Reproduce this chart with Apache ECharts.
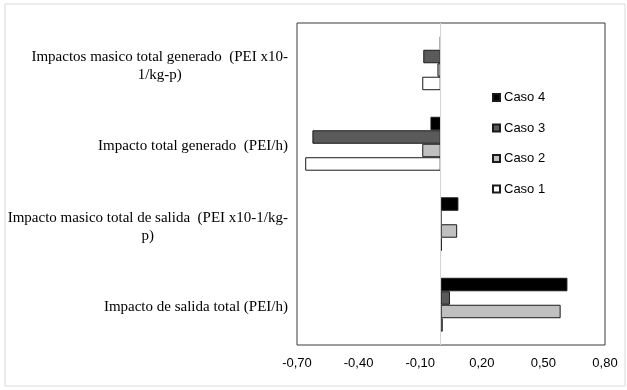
<!DOCTYPE html>
<html>
<head>
<meta charset="utf-8">
<script src="https://cdn.jsdelivr.net/npm/echarts@6/dist/echarts.min.js"></script>
<style>
  html, body { margin: 0; padding: 0; background: #fff; }
  #chart { width: 627px; height: 390px; }
</style>
</head>
<body>
<div id="chart"></div>
<script>
// categories, top to bottom
var categories = [
  ['Impactos masico total generado  (PEI x10-', '1/kg-p)'],
  ['Impacto total generado  (PEI/h)'],
  ['Impacto masico total de salida  (PEI x10-1/kg-', 'p)'],
  ['Impacto de salida total (PEI/h)']
]
var caso4 = [-0.004, -0.05, 0.086, 0.617]
var caso3 = [-0.085, -0.625, 0.002, 0.045]
var caso2 = [-0.016, -0.09, 0.08, 0.584]
var caso1 = [-0.09, -0.66, 0.005, 0.01]
var legendNames = ['Caso 4', 'Caso 3', 'Caso 2', 'Caso 1']

var chart = echarts.init(document.getElementById('chart'))

function barSeries(name, data, color) {
  return {
    name: name,
    type: 'bar',
    data: data,
    barGap: 0,
    barCategoryGap: '33%',
    itemStyle: {
      color: color,
      borderColor: '#1a1a1a',
      borderWidth: 1
    },
    emphasis: { disabled: true }
  }
}

var series = [
  barSeries('Caso 4', caso4, '#000000'),
  barSeries('Caso 3', caso3, '#5a5a5a'),
  barSeries('Caso 2', caso2, '#c0c0c0'),
  barSeries('Caso 1', caso1, '#ffffff')
]
// zero line
series[0].markLine = {
  silent: true,
  symbol: 'none',
  label: { show: false },
  lineStyle: { color: '#d4d4d4', type: 'solid', width: 1 },
  data: [{ xAxis: 0 }]
}

chart.setOption({
  backgroundColor: '#fff',
  animation: false,
  graphic: [{
    type: 'rect',
    shape: { x: 5, y: 4, width: 620, height: 382 },
    style: { fill: 'none', stroke: '#d9d9d9', lineWidth: 1 },
    z: -1
  }],
  legend: {
    orient: 'vertical',
    left: 492,
    top: 91,
    padding: 0,
    icon: 'rect',
    itemWidth: 7,
    itemHeight: 7,
    itemGap: 17.5,
    data: legendNames,
    textStyle: {
      fontFamily: 'Liberation Sans',
      fontSize: 13,
      color: '#000',
      padding: [0, 0, 0, -1]
    }
  },
  grid: {
    left: 297,
    top: 23,
    right: 22,
    bottom: 45,
    show: true,
    borderColor: '#3a3a3a',
    borderWidth: 1
  },
  xAxis: {
    type: 'value',
    min: -0.7,
    max: 0.8,
    interval: 0.3,
    axisLine: { show: false },
    axisTick: { show: false },
    splitLine: { show: false },
    axisLabel: {
      margin: 12,
      fontFamily: 'Liberation Sans',
      fontSize: 13,
      color: '#000',
      formatter: function (v) { return v.toFixed(2).replace('.', ',') }
    }
  },
  yAxis: {
    type: 'category',
    inverse: true,
    data: categories.map(function (c) { return c.join('\n') }),
    axisLine: { show: false, onZero: false },
    axisTick: { show: false },
    axisLabel: {
      margin: 9,
      align: 'right',
      padding: [5, 0, 0, 0],
      fontFamily: 'Liberation Serif',
      fontSize: 15,
      color: '#000',
      lineHeight: 18,
      formatter: function (v) {
        return v.split('\n').map(function (s) { return '{c|' + s + '}' }).join('\n')
      },
      rich: {
        c: {
          align: 'center',
          fontFamily: 'Liberation Serif',
          fontSize: 15,
          lineHeight: 18,
          color: '#000'
        }
      }
    }
  },
  series: series
})
</script>
</body>
</html>
